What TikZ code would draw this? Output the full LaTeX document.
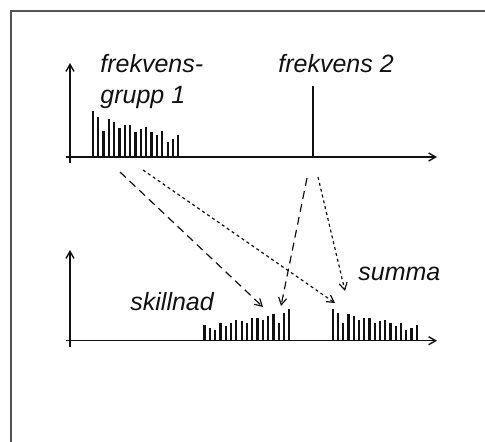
\documentclass[tikz,border=0pt]{standalone}
\usepackage{fontspec}
\setmainfont{Liberation Sans}
\usetikzlibrary{arrows.meta}
\definecolor{ink}  {HTML}{111111}
\definecolor{frame}{HTML}{555555}

\begin{document}
\begin{tikzpicture}[x=0.5pt,y=-0.5pt,
    axisline/.style={draw=ink,line width=0.7pt,-{Straight Barb[length=3.5pt,width=4pt]}},
    specbar/.style={draw=ink,line width=1.1pt},
    spectext/.style={anchor=base west,inner sep=0pt,text=ink,font=\fontsize{12.5}{15.5}\selectfont\itshape},
    longdash/.style={draw=ink,line width=0.6pt,dash pattern=on 4pt off 2.6pt,-{Straight Barb[length=3.5pt,width=4pt]}},
    shortdash/.style={draw=ink,line width=0.6pt,dash pattern=on 1.5pt off 1.5pt,-{Straight Barb[length=3.5pt,width=4pt]}}]
    \useasboundingbox (0,0) rectangle (485,441);
    \begin{scope}
      \clip (0,0) rectangle (485,441);
      \draw[frame,line width=0.7pt] (11,11) rectangle (497,453);
    \end{scope}
    % axes
    \draw[axisline] (66,157) -- (437,157);
    \draw[axisline] (70,163) -- (70,63);
    \draw[axisline] (66,340.7) -- (437,340.7);
    \draw[axisline] (70,347) -- (70,250);
    % spectra
    \foreach \h [count=\i from 0] in {45.7,40,25.7,38.3,35,29,32.3,32.3,25,28.3,30,25,21.7,25.7,15,17.7,22.3} {
      \draw[specbar] (92.7+5.35*\i,157) -- ++(0,-\h);
      \draw[specbar] (332.7+5.25*\i,340.7) -- ++(0,{-0.7*\h});
      \draw[specbar] (289.3-5.3*\i,340.7) -- ++(0,{-0.7*\h});
    }
    \draw[specbar] (313,157) -- (313,86);
    % labels
    \node[spectext,align=left] (grouplbl) at (100,103) {frekvens-\\grupp 1};
    \node[spectext] (tonelbl) at (278,72) {frekvens 2};
    \node[spectext] (difflbl) at (130,310) {skillnad};
    \node[spectext] (sumlbl) at (358,280) {summa};
    % mixing
    \coordinate (grpdiff)  at (120,172);
    \coordinate (grpsum)   at (143,170);
    \coordinate (tonediff) at (307,178);
    \coordinate (tonesum)  at (318,177);
    \coordinate (diffendA) at (263,307);
    \coordinate (diffendB) at (281,306);
    \coordinate (sumendA)  at (335,303);
    \coordinate (sumendB)  at (345,291);
    \draw[longdash]  (grpdiff)  -- (diffendA);
    \draw[shortdash] (grpsum)   -- (sumendA);
    \draw[longdash]  (tonediff) -- (diffendB);
    \draw[shortdash] (tonesum)  -- (sumendB);
  \end{tikzpicture}
\end{document}
